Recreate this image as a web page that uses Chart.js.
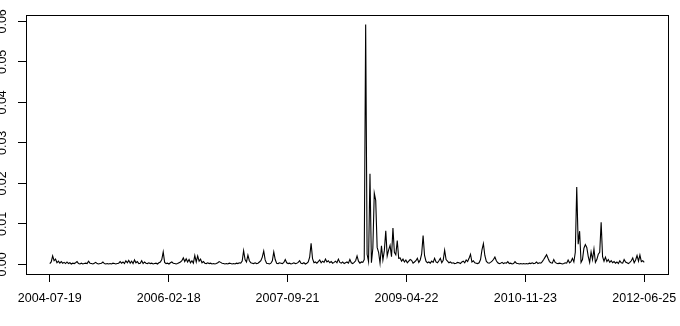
<!DOCTYPE html>
<html>
<head>
<meta charset="utf-8">
<script src="https://cdn.jsdelivr.net/npm/chart.js@4.4.1/dist/chart.umd.min.js"></script>
<style>
  html, body { margin: 0; padding: 0; background: #fff; }
  #wrap { width: 680px; height: 326px; position: relative; }
</style>
</head>
<body>
<div id="wrap"><canvas id="series-chart"></canvas></div>
<script>
// weekly values, 2004-07-19 .. 2012-06-25 (415 weeks)
const weeklyValues = [
  0.0002, 0.0006, 0.0021, 0.0009, 0.0013, 0.0004, 0.0008, 0.0003, 0.0007, 0.0003,
  0.0005, 0.0002, 0.0006, 0.0002, 0.0004, 0.0001, 0.0003, 0.0002, 0.0004, 0.0007,
  0.0002, 0.0001, 0.0003, 0.0001, 0.0002, 0.0003, 0.0002, 0.0008, 0.0003, 0.0002,
  0.0001, 0.0003, 0.0005, 0.0002, 0.0001, 0.0002, 0.0003, 0.0006, 0.0002, 0.0001,
  0.0002, 0.0001, 0.0002, 0.0001, 0.0003, 0.0002, 0.0001, 0.0002, 0.0003, 0.0007,
  0.0003, 0.0006, 0.0002, 0.0009, 0.0004, 0.0010, 0.0003, 0.0008, 0.0002, 0.0011,
  0.0004, 0.0007, 0.0002, 0.0003, 0.0009, 0.0002, 0.0006, 0.0003, 0.0002, 0.0004,
  0.0002, 0.0003, 0.0001, 0.0002, 0.0003, 0.0001, 0.0004, 0.0006, 0.0012, 0.0031,
  0.0005, 0.0002, 0.0003, 0.0001, 0.0004, 0.0006, 0.0003, 0.0002, 0.0001, 0.0002,
  0.0004, 0.0006, 0.0009, 0.0016, 0.0007, 0.0014, 0.0006, 0.0012, 0.0004, 0.0009,
  0.0003, 0.0022, 0.0006, 0.0021, 0.0008, 0.0013, 0.0004, 0.0007, 0.0003, 0.0002,
  0.0004, 0.0002, 0.0003, 0.0001, 0.0002, 0.0001, 0.0002, 0.0004, 0.0007, 0.0005,
  0.0003, 0.0002, 0.0001, 0.0002, 0.0001, 0.0003, 0.0002, 0.0001, 0.0002, 0.0001,
  0.0003, 0.0002, 0.0004, 0.0003, 0.0008, 0.0034, 0.0012, 0.0006, 0.0023, 0.0009,
  0.0004, 0.0003, 0.0002, 0.0004, 0.0002, 0.0003, 0.0006, 0.0009, 0.0018, 0.0033,
  0.0011, 0.0003, 0.0002, 0.0001, 0.0003, 0.0009, 0.0031, 0.0012, 0.0003, 0.0002,
  0.0004, 0.0003, 0.0002, 0.0005, 0.0012, 0.0004, 0.0002, 0.0003, 0.0001, 0.0002,
  0.0004, 0.0002, 0.0003, 0.0005, 0.0009, 0.0003, 0.0002, 0.0004, 0.0001, 0.0003,
  0.0006, 0.0018, 0.0052, 0.0014, 0.0004, 0.0006, 0.0003, 0.0007, 0.0011, 0.0004,
  0.0008, 0.0005, 0.0013, 0.0006, 0.0009, 0.0004, 0.0007, 0.0003, 0.0005, 0.0008,
  0.0004, 0.0013, 0.0005, 0.0003, 0.0006, 0.0002, 0.0004, 0.0006, 0.0003, 0.0012,
  0.0004, 0.0002, 0.0005, 0.0009, 0.0021, 0.0008, 0.0003, 0.0006, 0.0005, 0.0012,
  0.0592, 0.0025, 0.0007, 0.0224, 0.0004, 0.0040, 0.0176, 0.0158, 0.0042, 0.0030,
  0.0003, 0.0046, 0.0011, 0.0034, 0.0083, 0.0021, 0.0036, 0.0047, 0.0019, 0.0090,
  0.0030, 0.0024, 0.0059, 0.0015, 0.0016, 0.0008, 0.0013, 0.0006, 0.0011, 0.0004,
  0.0008, 0.0012, 0.0010, 0.0003, 0.0006, 0.0009, 0.0015, 0.0005, 0.0011, 0.0026,
  0.0071, 0.0022, 0.0008, 0.0004, 0.0006, 0.0003, 0.0008, 0.0005, 0.0015, 0.0006,
  0.0004, 0.0009, 0.0015, 0.0004, 0.0010, 0.0035, 0.0012, 0.0008, 0.0004, 0.0006,
  0.0003, 0.0004, 0.0002, 0.0003, 0.0005, 0.0004, 0.0002, 0.0006, 0.0008, 0.0004,
  0.0011, 0.0007, 0.0015, 0.0025, 0.0006, 0.0009, 0.0004, 0.0003, 0.0002, 0.0004,
  0.0012, 0.0036, 0.0051, 0.0022, 0.0008, 0.0004, 0.0003, 0.0005, 0.0008, 0.0012,
  0.0018, 0.0009, 0.0004, 0.0002, 0.0003, 0.0005, 0.0002, 0.0004, 0.0003, 0.0007,
  0.0002, 0.0003, 0.0001, 0.0002, 0.0007, 0.0003, 0.0002, 0.0001, 0.0002, 0.0001,
  0.0002, 0.0001, 0.0002, 0.0001, 0.0003, 0.0002, 0.0004, 0.0002, 0.0003, 0.0006,
  0.0002, 0.0004, 0.0003, 0.0007, 0.0012, 0.0018, 0.0024, 0.0015, 0.0007, 0.0004,
  0.0003, 0.0012, 0.0005, 0.0003, 0.0002, 0.0003, 0.0002, 0.0001, 0.0002, 0.0004,
  0.0003, 0.0011, 0.0004, 0.0007, 0.0015, 0.0006, 0.0030, 0.0191, 0.0050, 0.0082,
  0.0005, 0.0012, 0.0040, 0.0049, 0.0042, 0.0020, 0.0005, 0.0031, 0.0012, 0.0038,
  0.0005, 0.0012, 0.0025, 0.0030, 0.0104, 0.0019, 0.0008, 0.0018, 0.0007, 0.0012,
  0.0005, 0.0009, 0.0004, 0.0007, 0.0003, 0.0006, 0.0002, 0.0009, 0.0004, 0.0003,
  0.0012, 0.0006, 0.0004, 0.0002, 0.0005, 0.0009, 0.0016, 0.0004, 0.0011, 0.0022,
  0.0008, 0.0023, 0.0007, 0.0009, 0.0005
];

// x axis labels sit on evenly spaced week positions
const dateTickWeeks = [0, 82.8, 165.6, 248.4, 331.2, 414];
const dateTickLabels = ['2004-07-19', '2006-02-18', '2007-09-21', '2009-04-22', '2010-11-23', '2012-06-25'];
const valueTicks = [0, 0.01, 0.02, 0.03, 0.04, 0.05, 0.06];

const points = weeklyValues.map((v, i) => ({ x: i, y: v }));

// plot frame like R's box()
const boxPlugin = {
  id: 'box',
  afterDraw(chart) {
    const { ctx, chartArea: a } = chart;
    ctx.save();
    ctx.strokeStyle = '#000';
    ctx.lineWidth = 1;
    ctx.strokeRect(a.left + 0.5, a.top + 0.5, a.right - a.left, a.bottom - a.top);
    ctx.restore();
  },
};

const font = { family: '"Liberation Sans", Arial, sans-serif', size: 12.5 };

new Chart(document.getElementById('series-chart'), {
  type: 'line',
  data: {
    datasets: [
      {
        data: points,
        borderColor: '#000',
        borderWidth: 1.1,
        pointRadius: 0,
        tension: 0,
        fill: false,
      },
    ],
  },
  options: {
    responsive: true,
    maintainAspectRatio: false,
    animation: false,
    layout: { padding: { top: 15, right: 12, left: 0, bottom: 0 } },
    plugins: { legend: { display: false }, tooltip: { enabled: false } },
    scales: {
      x: {
        type: 'linear',
        min: -16.56,
        max: 430.56,
        afterFit: (s) => {
          s.height = 52;
          s.paddingLeft = 0;
          s.paddingRight = 0;
        },
        afterBuildTicks: (s) => { s.ticks = dateTickWeeks.map((v) => ({ value: v })); },
        border: { display: false },
        grid: { drawOnChartArea: false, drawTicks: true, tickLength: 8, tickColor: '#000', tickWidth: 1 },
        ticks: {
          color: '#000',
          font: font,
          padding: 9,
          maxRotation: 0,
          autoSkip: false,
          callback: (v) => dateTickLabels[dateTickWeeks.indexOf(v)],
        },
      },
      y: {
        min: -0.00237,
        max: 0.06157,
        afterFit: (s) => {
          s.width = 26;
          s.paddingTop = 0;
          s.paddingBottom = 0;
        },
        afterBuildTicks: (s) => { s.ticks = valueTicks.map((v) => ({ value: v })); },
        border: { display: false },
        grid: { drawOnChartArea: false, drawTicks: true, tickLength: 8, tickColor: '#000', tickWidth: 1 },
        ticks: {
          color: '#000',
          font: font,
          padding: 3,
          minRotation: 90,
          maxRotation: 90,
          crossAlign: 'center',
          callback: (v) => v.toFixed(2),
        },
      },
    },
  },
  plugins: [boxPlugin],
});
</script>
</body>
</html>
